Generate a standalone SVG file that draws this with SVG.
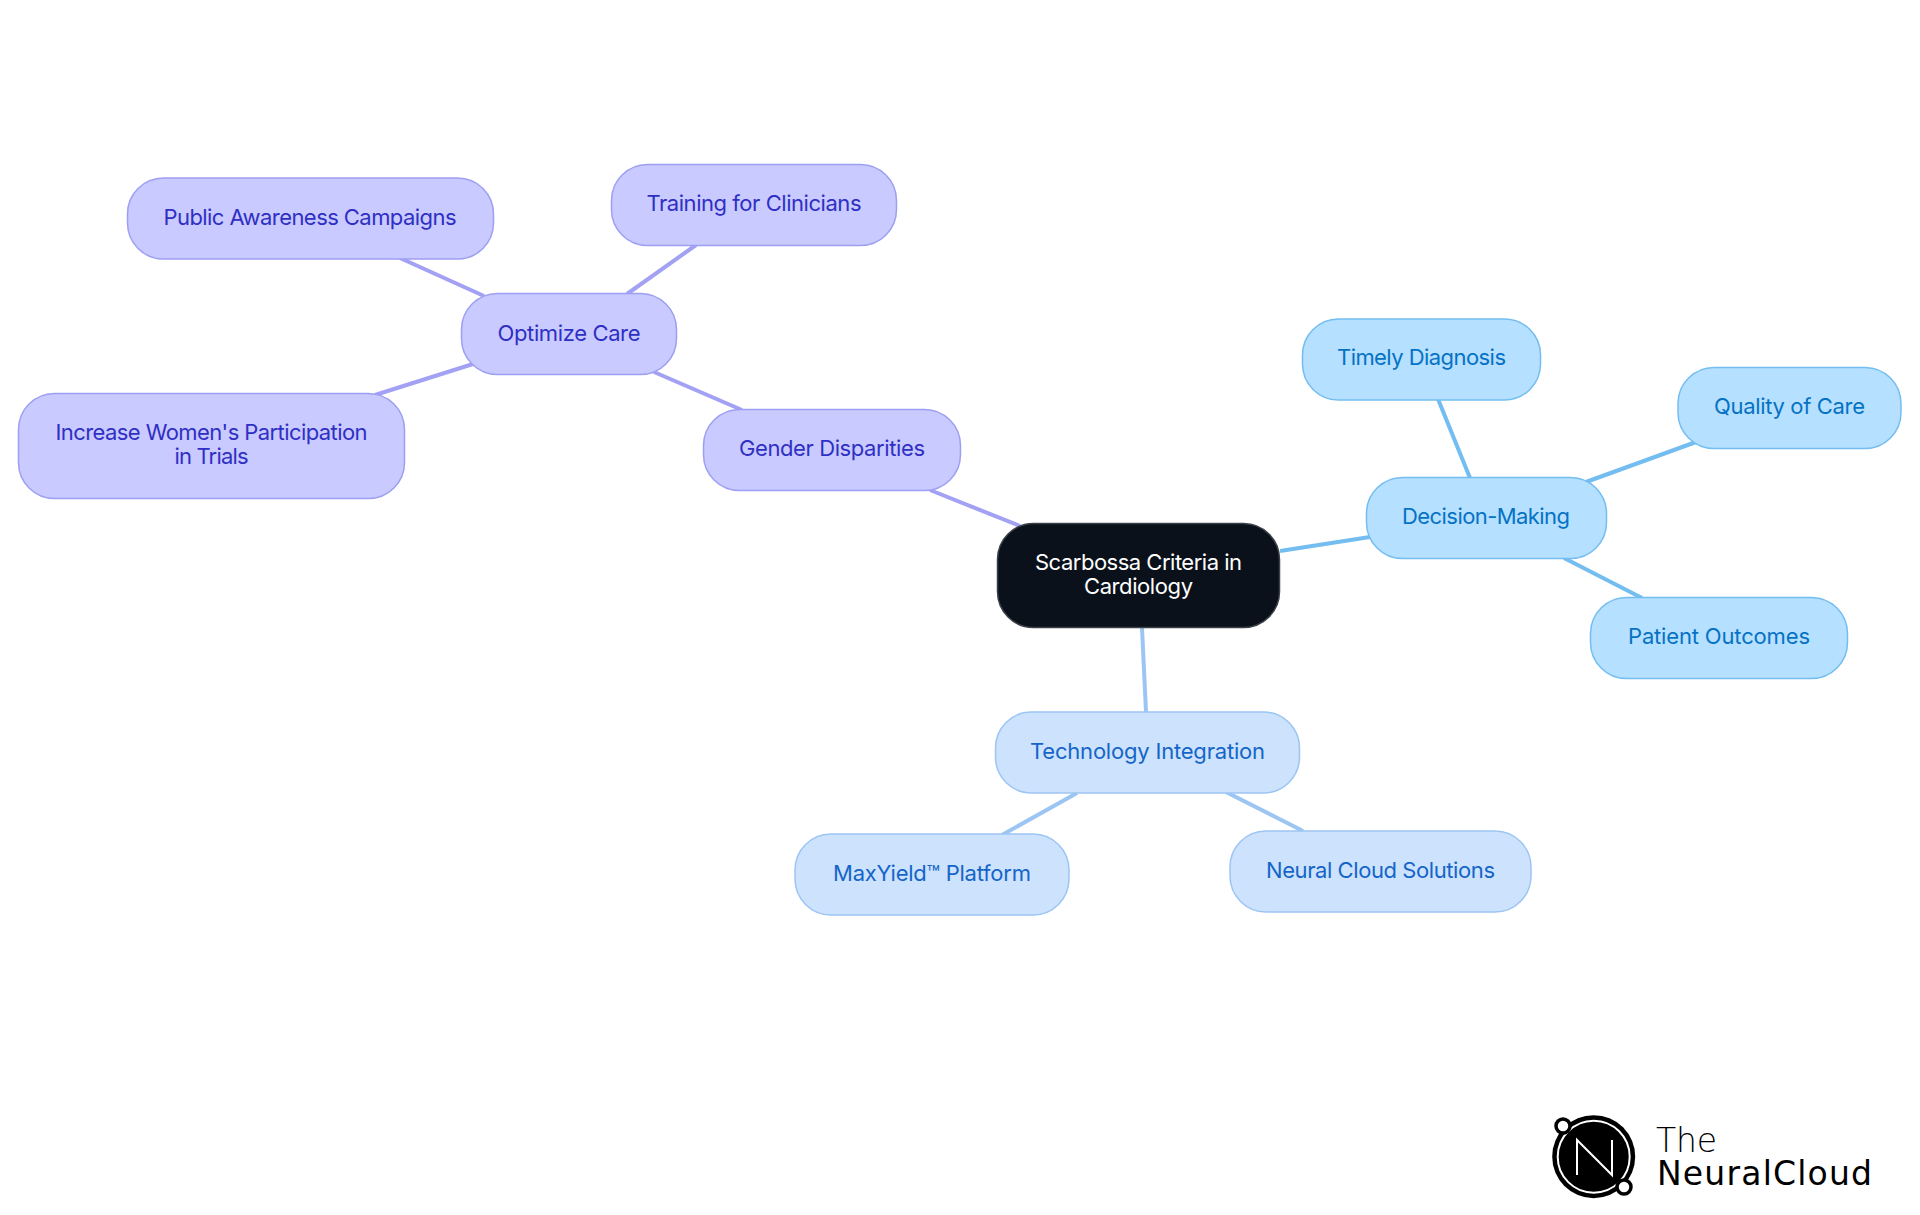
<svg xmlns="http://www.w3.org/2000/svg" width="1920" height="1215" viewBox="0 0 1920 1215">
<style>
text{font-family:Inter,"Noto Sans",sans-serif;font-size:22px;font-weight:400;text-anchor:middle}
.c{fill:none;stroke-width:4}
.p rect{fill:#c9caff;stroke:#9d9ff2;stroke-width:1.5}.p text{fill:#2f2fc4}
.b rect{fill:#cce2fd;stroke:#9cc5f4;stroke-width:1.5}.b text{fill:#1565c8}
.s rect{fill:#b5e0ff;stroke:#74bdf0;stroke-width:1.5}.s text{fill:#0572c4}
.lg{font-family:"DejaVu Sans",sans-serif;text-anchor:start;fill:#000}
</style>
<rect width="1920" height="1215" fill="#fff"/>
<g id="connectors">
<g class="c" stroke="#a3a1f4">
<line x1="1020" y1="526" x2="930" y2="490"/><line x1="742" y1="410" x2="654" y2="372"/>
<line x1="484" y1="296" x2="400" y2="258"/><line x1="627" y1="294" x2="696" y2="245"/><line x1="473" y1="364" x2="375" y2="395"/>
</g>
<g class="c" stroke="#74bdf0">
<line x1="1280" y1="551" x2="1370" y2="537"/><line x1="1470" y1="478" x2="1438" y2="399"/>
<line x1="1586" y1="482" x2="1696" y2="442"/><line x1="1564" y1="558" x2="1642" y2="598"/>
</g>
<g class="c" stroke="#9cc5f4">
<line x1="1142" y1="628" x2="1146" y2="712"/><line x1="1077" y1="793" x2="1002" y2="835"/><line x1="1226" y1="792" x2="1303" y2="831"/>
</g>
</g>
<g id="root"><rect x="997.5" y="523.5" width="282" height="104" rx="36" fill="#0a111b" stroke="#3b4148" stroke-width="1.5"/><text fill="#fff" x="1138.500" y="570" textLength="207">Scarbossa Criteria in</text><text fill="#fff" x="1138.500" y="594" textLength="109">Cardiology</text></g>
<g id="gender" class="p"><rect x="703.500" y="409.500" width="257" height="81" rx="36"/><text x="832" y="456" textLength="186">Gender Disparities</text></g>
<g id="optimize" class="p"><rect x="461.500" y="293.500" width="215" height="81" rx="36"/><text x="569" y="341" textLength="143">Optimize Care</text></g>
<g id="training" class="p"><rect x="611.500" y="164.500" width="285" height="81" rx="36"/><text x="754" y="211" textLength="215">Training for Clinicians</text></g>
<g id="public" class="p"><rect x="127.500" y="178" width="366" height="81" rx="36"/><text x="310" y="225" textLength="293">Public Awareness Campaigns</text></g>
<g id="increase" class="p"><rect x="18.500" y="393.500" width="386" height="105" rx="36"/><text x="211.500" y="440" textLength="312">Increase Women's Participation</text><text x="211.500" y="464" textLength="74">in Trials</text></g>
<g id="decision" class="s"><rect x="1366.500" y="477.500" width="240" height="81" rx="36"/><text x="1486" y="524" textLength="168">Decision-Making</text></g>
<g id="timely" class="s"><rect x="1302.500" y="319" width="238" height="81" rx="36"/><text x="1421.500" y="365" textLength="169">Timely Diagnosis</text></g>
<g id="quality" class="s"><rect x="1678" y="367.500" width="223" height="81" rx="36"/><text x="1789.500" y="414" textLength="151">Quality of Care</text></g>
<g id="patient" class="s"><rect x="1590.500" y="597.500" width="257" height="81" rx="36"/><text x="1719" y="644" textLength="182">Patient Outcomes</text></g>
<g id="technology" class="b"><rect x="995.500" y="712" width="304" height="81" rx="36"/><text x="1147.500" y="759" textLength="235">Technology Integration</text></g>
<g id="maxyield" class="b"><rect x="795" y="834" width="274" height="81" rx="36"/><text x="932" y="881" textLength="198">MaxYield™ Platform</text></g>
<g id="neural" class="b"><rect x="1230" y="831" width="301" height="81" rx="36"/><text x="1380.500" y="878" textLength="229">Neural Cloud Solutions</text></g>
<g id="logo">
<circle cx="1593.700" cy="1156.700" r="41.500" fill="#000"/>
<circle cx="1593.700" cy="1156.700" r="36" fill="none" stroke="#fff" stroke-width="2"/>
<path d="M1577 1175V1140L1612 1175V1140" fill="none" stroke="#fff" stroke-width="2"/>
<circle cx="1563" cy="1126" r="7" fill="#fff" stroke="#000" stroke-width="3.500"/>
<circle cx="1624" cy="1187" r="7" fill="#fff" stroke="#000" stroke-width="3.500"/>
<text class="lg" x="1656" y="1152" textLength="61" style="font-size:33px;font-weight:200;font-family:'DejaVu Sans Light','DejaVu Sans',sans-serif">The</text>
<text class="lg" x="1657" y="1185" textLength="215" style="font-size:33px;font-weight:400">NeuralCloud</text>
</g>
</svg>
